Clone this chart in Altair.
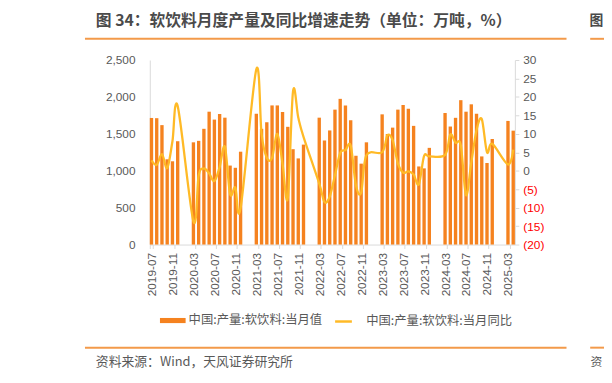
import altair as alt
import pandas as pd

# ---- categories (every month on the axis, Jan/Feb are not reported) ----
all_months = []
for y in range(2019, 2026):
    for m in range(1, 13):
        if (y == 2019 and m < 7) or (y == 2025 and m > 4):
            continue
        all_months.append(f"{y}-{m:02d}")
reported = [mm for mm in all_months if mm[-2:] not in ("01", "02")]
tick_months = all_months[::4]

# ---- series values ----
output_values = [
    1715, 1712, 1618, 1155, 1128, 1400,                              # 2019
    1385, 1405, 1568, 1800, 1693, 1769, 1719, 1070, 1040, 1258,      # 2020
    1773, 1568, 1657, 1885, 1885, 1795, 1595, 1292, 1167, 1354,      # 2021
    1719, 1410, 1546, 1828, 1974, 1885, 1684, 1203, 1096, 1385,      # 2022
    1764, 1497, 1584, 1828, 1892, 1840, 1608, 1058, 1032, 1310,      # 2023
    1782, 1599, 1717, 1956, 1800, 1900, 1773, 1194, 1105, 1430,      # 2024
    1675, 1543,                                                      # 2025
]
yoy_values = [
    2.8, 1.6, 4.5, 0.7, 8.0, 17.5,
    -13.7, -1.3, 0.6, -0.7, -2.8, 1.0, 6.5, -6.3, -4.5, -10.1,
    27.5, 10.0, 3.5, 3.5, 10.0, 1.9, -7.4, 21.5, 14.4, 9.2,
    -3.5, -8.5, -7.0, -1.2, 4.8, 5.6, 6.8, -3.9, -5.9, 4.2,
    5.0, 9.6, 8.3, 2.0, -0.5, -0.2, -1.0, -3.7, 4.0, 3.9,
    4.3, 9.8, 7.6, 6.9, -6.6, 2.2, 11.0, 14.0, 5.0, 7.3,
    1.7, 5.7,
]
bar_name = "中国:产量:软饮料:当月值"
line_name = "中国:产量:软饮料:当月同比"
title_text = "图 34：软饮料月度产量及同比增速走势（单位：万吨，%）"
source_text = "资料来源：Wind，天风证券研究所"

BAR_COLOR = "#F5821F"
LINE_COLOR = "#FFBA26"
AXIS_GRAY = "#d9d9d9"
LABEL_GRAY = "#595959"
ORANGE_RULE = "#F39A4A"

df = pd.DataFrame({
    "month": reported,
    "value": output_values,
    "yoy": yoy_values,
    "s_bar": bar_name,
    "s_line": line_name,
})

x_enc = alt.X(
    "month:O",
    scale=alt.Scale(domain=all_months, paddingInner=0.36, paddingOuter=0),
    axis=alt.Axis(
        values=tick_months, labelAngle=-90, title=None,
        domainColor=AXIS_GRAY, tickColor=AXIS_GRAY, tickSize=4, tickBand="extent",
        labelPadding=4, labelFont="Liberation Sans", labelFontSize=12,
        labelColor=LABEL_GRAY, labelOverlap=False,
    ),
)

bars = alt.Chart(df).mark_bar().encode(
    x=x_enc,
    y=alt.Y(
        "value:Q",
        scale=alt.Scale(domain=[0, 2500], nice=False),
        axis=alt.Axis(
            values=[0, 500, 1000, 1500, 2000, 2500], title=None,
            labelExpr="format(datum.value, ',')",
            grid=False, ticks=False, tickSize=0, domainColor=AXIS_GRAY,
            labelPadding=15, labelFont="Liberation Sans", labelFontSize=12,
            labelColor=LABEL_GRAY,
        ),
    ),
    fill=alt.Fill(
        "s_bar:N",
        scale=alt.Scale(domain=[bar_name], range=[BAR_COLOR]),
        legend=alt.Legend(
            orient="none", legendX=10.3, legendY=251, title=None, padding=0,
            symbolType="M-1,-0.2L1,-0.2L1,0.2L-1,0.2Z", symbolSize=676,
            symbolStrokeWidth=0, labelOffset=3,
            labelFont="Noto Sans CJK SC", labelFontSize=12.5, labelColor=LABEL_GRAY,
        ),
    ),
)

line = alt.Chart(df).mark_line(interpolate="cardinal", strokeWidth=2.3).encode(
    x=x_enc,
    y=alt.Y(
        "yoy:Q",
        scale=alt.Scale(domain=[-20, 30], nice=False),
        axis=alt.Axis(
            orient="right", values=list(range(-20, 31, 5)), title=None, grid=False,
            ticks=True, tickSize=4, tickColor=AXIS_GRAY, domainColor=AXIS_GRAY,
            labelPadding=4, labelFont="Liberation Sans", labelFontSize=12,
            labelExpr="datum.value < 0 ? '(' + format(abs(datum.value), 'd') + ')' : format(datum.value, 'd')",
            labelColor={"expr": "datum.value < 0 ? '#ff0000' : '#595959'"},
        ),
    ),
    stroke=alt.Stroke(
        "s_line:N",
        scale=alt.Scale(domain=[line_name], range=[LINE_COLOR]),
        legend=alt.Legend(
            orient="none", legendX=186.3, legendY=255, title=None, padding=0,
            symbolType="stroke", symbolSize=289, symbolStrokeWidth=2.5,
            labelOffset=13,
            labelFont="Noto Sans CJK SC", labelFontSize=12.5, labelColor=LABEL_GRAY,
        ),
    ),
)

txt = pd.DataFrame({"t": [title_text], "s": [source_text], "n1": ["图"], "n2": ["资"]})

title_mark = alt.Chart(txt).mark_text(
    align="left", baseline="middle", font="Noto Sans CJK SC", fontSize=16,
    fontWeight="bold", color="#4a4a4a",
).encode(x=alt.value(-54.7), y=alt.value(-39.5), text="t:N")

next_title = alt.Chart(txt).mark_text(
    align="left", baseline="middle", font="Noto Sans CJK SC", fontSize=14,
    fontWeight="bold", color="#4a4a4a",
).encode(x=alt.value(445.5), y=alt.value(-39.5), text="n1:N")

source_mark = alt.Chart(txt).mark_text(
    align="left", baseline="middle", font="Noto Sans CJK SC", fontSize=13,
    color=LABEL_GRAY,
).encode(x=alt.value(-54.7), y=alt.value(306), text="s:N")

next_source = alt.Chart(txt).mark_text(
    align="left", baseline="middle", font="Noto Sans CJK SC", fontSize=12,
    color=LABEL_GRAY,
).encode(x=alt.value(446.5), y=alt.value(306), text="n2:N")

rule_top = alt.Chart(txt).mark_rule(color=ORANGE_RULE, strokeWidth=2).encode(
    x=alt.value(-65.7), x2=alt.value(422.3), y=alt.value(-21.5))
rule_top2 = alt.Chart(txt).mark_rule(color=ORANGE_RULE, strokeWidth=2).encode(
    x=alt.value(446.3), x2=alt.value(470), y=alt.value(-21.5))
rule_bot = alt.Chart(txt).mark_rule(color=ORANGE_RULE, strokeWidth=2).encode(
    x=alt.value(-65.7), x2=alt.value(422.3), y=alt.value(291.5))
rule_bot2 = alt.Chart(txt).mark_rule(color=ORANGE_RULE, strokeWidth=2).encode(
    x=alt.value(446.3), x2=alt.value(470), y=alt.value(291.5))

chart = alt.layer(
    bars, line, title_mark, next_title, source_mark, next_source,
    rule_top, rule_top2, rule_bot, rule_bot2,
).resolve_scale(
    y="independent"
).properties(
    width=370, height=187,
    autosize=alt.AutoSizeParams(type="none"),
    padding={"left": 143.7, "top": 50.3, "right": 90.3, "bottom": 124},
    background="white",
).configure_view(stroke=None)

chart.save("out.html", embed_options={"renderer": "svg", "actions": False})
